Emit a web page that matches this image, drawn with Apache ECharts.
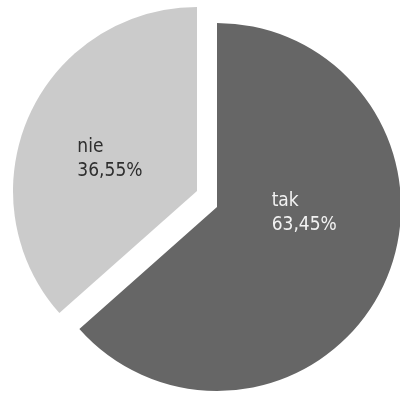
<!DOCTYPE html>
<html>
<head>
<meta charset="utf-8">
<script src="https://cdn.jsdelivr.net/npm/echarts@6/dist/echarts.min.js"></script>
<style>
  html, body { margin: 0; padding: 0; background: #fff; }
  #chart-panel { width: 400px; height: 394px; }
</style>
</head>
<body>
<div id="chart-panel"></div>
<script>
(function () {
    var myChart = echarts.init(document.querySelector('#chart-panel'));

    // odpowiedzi i udzialy (%)
    var categories = ['tak', 'nie'];
    var values = [63.45, 36.55];
    var colors = ['#666666', '#cbcbcb'];
    var labelColors = ['#f2f2f2', '#2e2e2e'];

    // each slice drawn by its own series so it can sit on its own centre
    var centers = [[217, 207], [197, 191]];
    var labelShift = [[-32, -57], [-33, -17]];

    var fmt = function (p) {
        return p.name + '\n' + p.value.toFixed(2).replace('.', ',') + '%';
    };

    var series = categories.map(function (cat, k) {
        return {
            type: 'pie',
            center: centers[k],
            radius: 184,
            startAngle: 90,
            clockwise: true,
            silent: true,
            animation: false,
            emphasis: { disabled: true },
            labelLine: { show: false },
            labelLayout: { dx: labelShift[k][0], dy: labelShift[k][1], align: 'left', verticalAlign: 'top' },
            data: categories.map(function (name, i) {
                var own = i === k;
                return {
                    name: name,
                    value: values[i],
                    itemStyle: { color: own ? colors[i] : 'rgba(0,0,0,0)' },
                    label: {
                        show: own,
                        position: 'inside',
                        formatter: fmt,
                        color: labelColors[i],
                        fontFamily: '"Liberation Sans Narrow", "DejaVu Sans Condensed", sans-serif',
                        fontSize: 19,
                        lineHeight: 24,
                        align: 'left'
                    }
                };
            })
        };
    });

    var option = {
        backgroundColor: '#ffffff',
        series: series
    };
    myChart.setOption(option);
})();
</script>
</body>
</html>
